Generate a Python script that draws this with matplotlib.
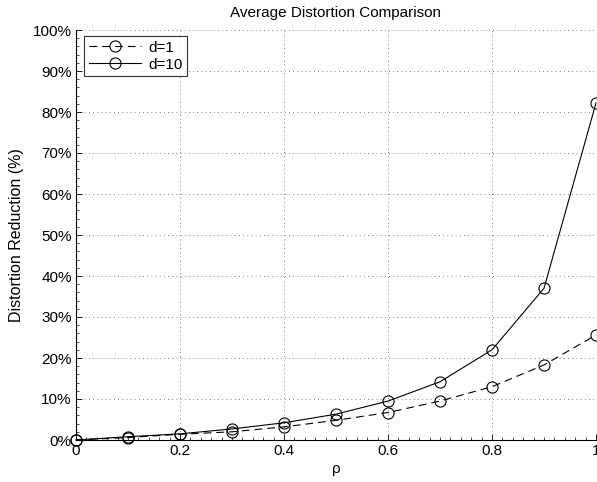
import matplotlib
matplotlib.use("Agg")
import matplotlib.pyplot as plt
from matplotlib.ticker import MultipleLocator

plt.rcParams['font.family'] = ['Liberation Sans', 'DejaVu Sans']

rho = [0.0, 0.1, 0.2, 0.3, 0.4, 0.5, 0.6, 0.7, 0.8, 0.9, 1.0]
d1 = [0.0, 0.6, 1.4, 2.0, 3.2, 4.8, 6.7, 9.5, 13.0, 18.3, 25.6]
d10 = [0.0, 0.8, 1.5, 2.7, 4.2, 6.3, 9.5, 14.2, 22.0, 37.0, 82.2]
xticks = [0, 0.2, 0.4, 0.6, 0.8, 1]
xticklabels = ["0", "0.2", "0.4", "0.6", "0.8", "1"]
yticks = list(range(0, 101, 10))
yticklabels = [f"{v}%" for v in yticks]

fig = plt.figure(figsize=(5.97, 4.82), dpi=100)
ax = fig.add_axes([76/597, 42/482, 520/597, 410/482])

ax.plot(rho, d1, color='black', linestyle=(0, (7, 4.5)), linewidth=0.8,
        marker='o', markersize=8, markerfacecolor='none', markeredgewidth=0.8,
        label='d=1', clip_on=False, zorder=3)
ax.plot(rho, d10, color='black', linestyle='-', linewidth=0.8,
        marker='o', markersize=8, markerfacecolor='none', markeredgewidth=0.8,
        label='d=10', clip_on=False, zorder=3)

ax.set_xlim(0, 1)
ax.set_ylim(0, 100)
ax.set_xticks(xticks)
ax.set_xticklabels(xticklabels)
ax.set_yticks(yticks)
ax.set_yticklabels(yticklabels)
ax.xaxis.set_minor_locator(MultipleLocator(0.02))
ax.yaxis.set_minor_locator(MultipleLocator(2))
ax.tick_params(which='major', direction='in', length=4, width=0.6, labelsize=11, pad=3)
ax.tick_params(which='minor', direction='in', length=2, width=0.5)
ax.grid(True, which='major', linestyle=(0, (1, 4)), color='#555555', linewidth=0.6)
for s in ['top', 'right']:
    ax.spines[s].set_visible(False)
for s in ['left', 'bottom']:
    ax.spines[s].set_linewidth(0.8)

ax.set_title("Average Distortion Comparison", fontsize=11, pad=9)
ax.set_xlabel("ρ", fontsize=11, labelpad=3)
ax.set_ylabel("Distortion Reduction (%)", fontsize=11.5, labelpad=6)

leg = ax.legend(loc='upper left', fontsize=11, frameon=True, fancybox=False,
                edgecolor='black', bbox_to_anchor=(8/520, 1 - 6/410),
                borderaxespad=0, handlelength=3.4,
                borderpad=0.3, labelspacing=0.2, handletextpad=0.5)
leg.get_frame().set_linewidth(0.8)

fig.savefig("out.png", dpi=100)
